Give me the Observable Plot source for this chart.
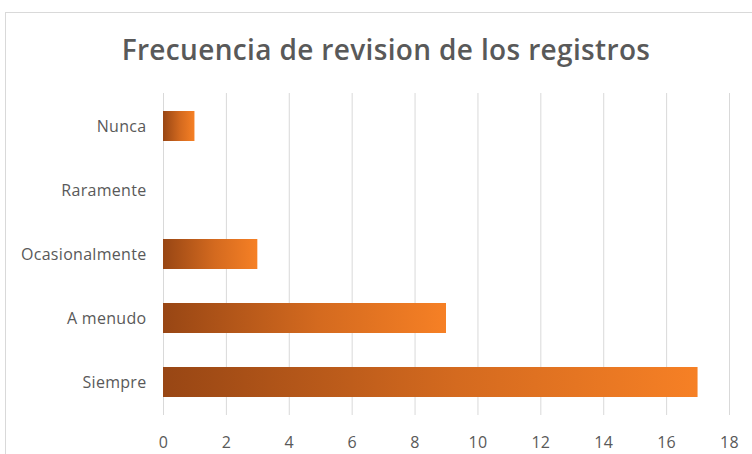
<!DOCTYPE html>
<html>
<head>
<meta charset="utf-8">
<script src="https://cdn.jsdelivr.net/npm/d3@7"></script>
<script src="https://cdn.jsdelivr.net/npm/@observablehq/plot@0.6"></script>
<style>
  html, body { margin: 0; padding: 0; background: #fff; }
  #wrap { position: relative; width: 752px; height: 454px; overflow: hidden; }
  #frame { position: absolute; left: 5px; top: 12px; width: 760px; height: 460px; border: 1px solid #d9d9d9; box-sizing: border-box; }
  #title { position: absolute; left: 0; width: 772px; top: 30px; text-align: center; font-family: "Open Sans", sans-serif; font-weight: 600; font-size: 28px; color: #595959; letter-spacing: 0.35px; }
  #chart { position: absolute; left: 0; top: 0; }
</style>
</head>
<body>
<div id="wrap">
  <div id="frame"></div>
  <div id="title">Frecuencia de revision de los registros</div>
  <div id="chart"></div>
</div>
<script>
const categories = ["Nunca", "Raramente", "Ocasionalmente", "A menudo", "Siempre"];
const values = [1, 0, 3, 9, 17];
const xTicks = [0, 2, 4, 6, 8, 10, 12, 14, 16, 18];

const data = categories.map((c, i) => ({category: c, value: values[i]}));

const plot = Plot.plot({
  width: 752,
  height: 454,
  marginLeft: 163,
  marginRight: 23,
  marginTop: 93,
  marginBottom: 39,
  style: {fontFamily: "Open Sans, sans-serif", fontSize: "16px", color: "#595959", background: "transparent", letterSpacing: "0.3px"},
  x: {domain: [0, 18], ticks: xTicks, tickSize: 0, tickPadding: 21, label: null, grid: false},
  y: {domain: categories, paddingInner: 0.53, paddingOuter: 0.28, align: 0.5, tickSize: 0, tickPadding: 17, label: null},
  marks: [
    Plot.ruleX(xTicks, {stroke: "#d9d9d9", strokeWidth: 1}),
    Plot.barX(data, {y: "category", x: "value", fill: "url(#barGrad)", filter: d => d.value > 0, style: {filter: "url(#shadow)"}})
  ]
});

const svg = d3.select(plot);
const defs = svg.insert("defs", ":first-child");
const g = defs.append("linearGradient").attr("id", "barGrad")
  .attr("x1", "0%").attr("x2", "100%").attr("y1", "0%").attr("y2", "0%");
g.append("stop").attr("offset", "0%").attr("stop-color", "#984614");
g.append("stop").attr("offset", "55%").attr("stop-color", "#d46a1f");
g.append("stop").attr("offset", "100%").attr("stop-color", "#f68025");
const f = defs.append("filter").attr("id", "shadow").attr("x", "-10%").attr("y", "-20%").attr("width", "130%").attr("height", "160%");
f.append("feDropShadow").attr("dx", 1.5).attr("dy", 2).attr("stdDeviation", 1.5).attr("flood-color", "#000").attr("flood-opacity", 0.35);
svg.selectAll("text").attr("fill", "#595959");

document.getElementById("chart").appendChild(plot);
</script>
</body>
</html>
